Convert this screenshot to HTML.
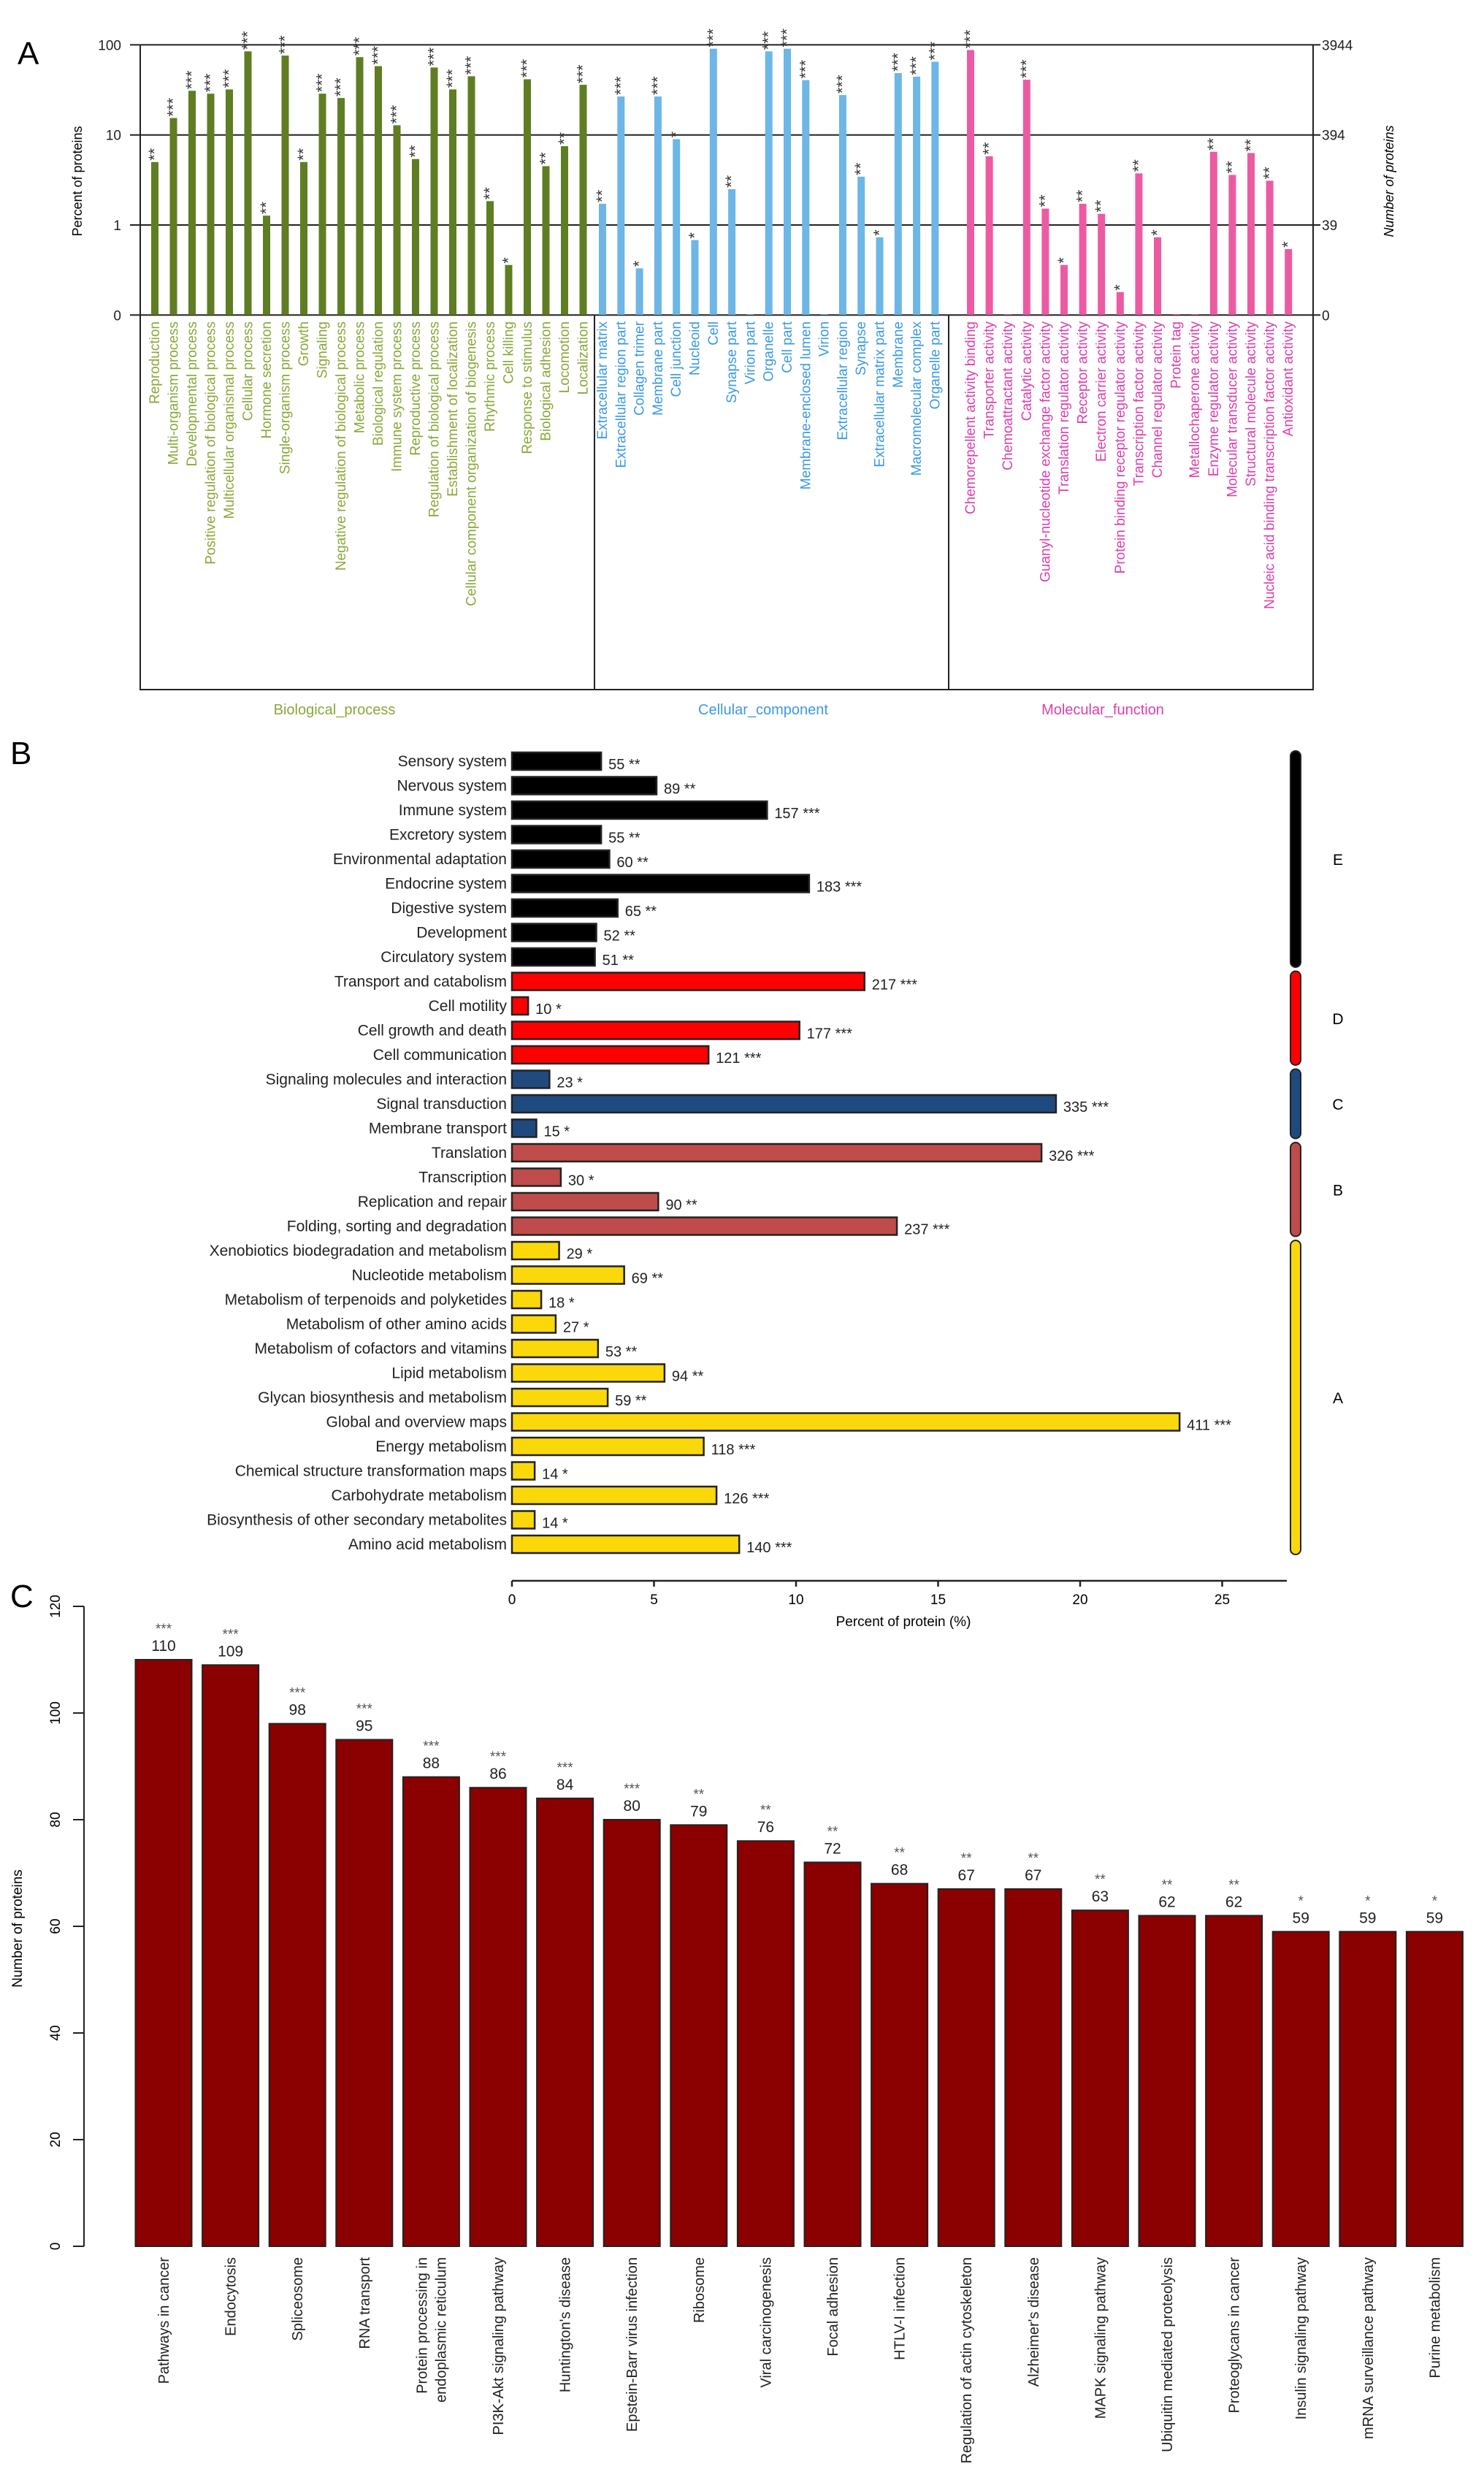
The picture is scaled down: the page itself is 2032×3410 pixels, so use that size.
<!DOCTYPE html>
<html><head><meta charset="utf-8"><style>
html,body{margin:0;padding:0;background:#fff;}
svg{display:block;font-family:"Liberation Sans",sans-serif;}
.nar{font-family:"Liberation Sans Narrow","Liberation Sans",sans-serif;}
</style></head><body>
<svg id="fig" width="2032" height="3410" viewBox="0 0 2032 3410" xmlns="http://www.w3.org/2000/svg">
<g id="pa"></g>
<g id="pb"></g>
<g id="pc"></g>
</svg>
<script>
// ---------- Panel A data ----------
const bpCats=["Reproduction","Multi-organism process","Developmental process","Positive regulation of biological process","Multicellular organismal process","Cellular process","Hormone secretion","Single-organism process","Growth","Signaling","Negative regulation of biological process","Metabolic process","Biological regulation","Immune system process","Reproductive process","Regulation of biological process","Establishment of localization","Cellular component organization of biogenesis","Rhythmic process","Cell killing","Response to stimulus","Biological adhesion","Locomotion","Localization"];
const bpVals=[5.0,15.4,30.9,28.7,32,84.7,1.27,76,5.0,28.7,25.7,73,58,12.8,5.4,56,32,44.8,1.84,0.36,41.5,4.5,7.5,36];
const bpStars=["**","***","***","***","***","***","**","***","**","***","***","***","***","***","**","***","***","***","**","*","***","**","**","***"];
const ccCats=["Extracellular matrix","Extracellular region part","Collagen trimer","Membrane part","Cell junction","Nucleoid","Cell","Synapse part","Virion part","Organelle","Cell part","Membrane-enclosed lumen","Virion","Extracellular region","Synapse","Extracellular matrix part","Membrane","Macromolecular complex","Organelle part"];
const ccVals=[1.72,26.7,0.33,26.7,8.97,0.68,90.6,2.5,0,84.6,90.6,40.6,0,27.7,3.44,0.73,48.6,44.4,65];
const ccStars=["**","***","*","***","*","*","***","**","","***","***","***","","***","**","*","***","***","***"];
const mfCats=["Chemorepellent activity binding","Transporter activity","Chemoattractant activity","Catalytic activity","Guanyl-nucleotide exchange factor activity","Translation regulator activity","Receptor activity","Electron carrier activity","Protein binding receptor regulator activity","Transcription factor activity","Channel regulator activity","Protein tag","Metallochaperone activity","Enzyme regulator activity","Molecular transducer activity","Structural molecule activity","Nucleic acid binding transcription factor activity","Antioxidant activity"];
const mfVals=[87.7,5.8,0,41,1.52,0.36,1.72,1.33,0.18,3.74,0.73,0,0,6.5,3.6,6.3,3.1,0.54];
const mfStars=["***","**","","***","**","*","**","**","*","**","*","","","**","**","**","**","*"];
const aLeftTicks=["100","10","1","0"];
const aLeftTickVals=[100,10,1,0.1];
const aRightTicks=["3944","394","39","0"];

// ---------- Panel B data ----------
const bCats=["Sensory system","Nervous system","Immune system","Excretory system","Environmental adaptation","Endocrine system","Digestive system","Development","Circulatory system","Transport and catabolism","Cell motility","Cell growth and death","Cell communication","Signaling molecules and interaction","Signal transduction","Membrane transport","Translation","Transcription","Replication and repair","Folding, sorting and degradation","Xenobiotics biodegradation and metabolism","Nucleotide metabolism","Metabolism of terpenoids and polyketides","Metabolism of other amino acids","Metabolism of cofactors and vitamins","Lipid metabolism","Glycan biosynthesis and metabolism","Global and overview maps","Energy metabolism","Chemical structure transformation maps","Carbohydrate metabolism","Biosynthesis of other secondary metabolites","Amino acid metabolism"];
const bCounts=[55,89,157,55,60,183,65,52,51,217,10,177,121,23,335,15,326,30,90,237,29,69,18,27,53,94,59,411,118,14,126,14,140];
const bPercents=[3.14,5.09,8.98,3.14,3.43,10.46,3.72,2.97,2.92,12.41,0.57,10.12,6.92,1.32,19.15,0.86,18.64,1.72,5.15,13.55,1.66,3.95,1.03,1.54,3.03,5.37,3.37,23.5,6.75,0.80,7.2,0.80,8.0];
const bStars=["**","**","***","**","**","***","**","**","**","***","*","***","***","*","***","*","***","*","**","***","*","**","*","*","**","**","**","***","***","*","***","*","***"];
const bGroups=["E","E","E","E","E","E","E","E","E","D","D","D","D","C","C","C","B","B","B","B","A","A","A","A","A","A","A","A","A","A","A","A","A"];
const bTicks=[0,5,10,15,20,25];

// ---------- Panel C data ----------
const cCats=[["Pathways in cancer"],["Endocytosis"],["Spliceosome"],["RNA transport"],["Protein processing in","endoplasmic reticulum"],["PI3K-Akt signaling pathway"],["Huntington's disease"],["Epstein-Barr virus infection"],["Ribosome"],["Viral carcinogenesis"],["Focal adhesion"],["HTLV-I infection"],["Regulation of actin cytoskeleton"],["Alzheimer's disease"],["MAPK signaling pathway"],["Ubiquitin mediated proteolysis"],["Proteoglycans in cancer"],["Insulin signaling pathway"],["mRNA surveillance pathway"],["Purine metabolism"]];
const cVals=[110,109,98,95,88,86,84,80,79,76,72,68,67,67,63,62,62,59,59,59];
const cStars=["***","***","***","***","***","***","***","***","**","**","**","**","**","**","**","**","**","*","*","*"];
const cTicks=[0,20,40,60,80,100,120];

const NS="http://www.w3.org/2000/svg";
function mk(parent,tag,attrs,text){const e=document.createElementNS(NS,tag);for(const k in attrs)e.setAttribute(k,attrs[k]);if(text!==undefined)e.textContent=text;parent.appendChild(e);return e;}

// ================= PANEL A =================
(function(){
const g=document.getElementById('pa');
const yA=v=>308-123.3*Math.log10(Math.max(v,0.1));
const L=192,R=1798,T=62,B0=431,BB=944;
let t=mk(g,'text',{x:24,y:88,'font-size':44},'A');


aLeftTickVals.forEach((v,i)=>{
 const y=yA(v);
 let l=mk(g,'line',{x1:178,x2:R+10,y1:y,y2:y,stroke:'#222','stroke-width':2});
 
 
 let tl=mk(g,'text',{x:166,y:y+7,'font-size':19,'text-anchor':'end',fill:'#222'},aLeftTicks[i]);
 
 
 let tr=mk(g,'text',{x:R+12,y:y+7,'font-size':19,fill:'#222'},aRightTicks[i]);
 
 
});
let fr=mk(g,'path',{d:`M${L},${T} V${BB} H${R} V${T}`,fill:'none',stroke:'#222','stroke-width':2});


[814,1299].forEach(x=>{
 let d=mk(g,'line',{x1:x,x2:x,y1:B0,y2:BB,stroke:'#222','stroke-width':2});
 
 
});
let yt=mk(g,'text',{transform:'translate(112,248) rotate(-90)','font-size':18,'text-anchor':'middle'},'Percent of proteins');


let yt2=mk(g,'text',{transform:'translate(1908,248) rotate(-90)','font-size':18,'text-anchor':'middle','font-style':'italic'},'Number of proteins');


const groups=[
 {cats:bpCats,vals:bpVals,stars:bpStars,x0:212,dx:25.5,bar:'#5f7d22',lab:'#8aa83a',name:'Biological_process',gx:458},
 {cats:ccCats,vals:ccVals,stars:ccStars,x0:825,dx:25.3,bar:'#6db6e6',lab:'#3b9ae2',name:'Cellular_component',gx:1045},
 {cats:mfCats,vals:mfVals,stars:mfStars,x0:1329,dx:25.6,bar:'#ec5ba2',lab:'#dc3fae',name:'Molecular_function',gx:1510}];
groups.forEach(gr=>{
 gr.cats.forEach((c,i)=>{
  const x=gr.x0+i*gr.dx, v=gr.vals[i];
  if(v>0){
   const y=yA(v);
   let b=mk(g,'rect',{x:x-5,y:y,width:10,height:B0-y,fill:gr.bar});
   
   
   if(gr.stars[i]){
    let s=mk(g,'text',{transform:`translate(${x+7},${y-2}) rotate(-90)`,'font-size':22,fill:'#333'},gr.stars[i]);
    
    
   }
  } else {
   let b=mk(g,'rect',{x:x-5,y:B0-1,width:10,height:1,fill:gr.bar});
   
   
  }
  let lt=mk(g,'text',{transform:`translate(${x+6},440) rotate(-90)`,'font-size':19,'text-anchor':'end',fill:gr.lab},c);
  
  
 });
 let gl=mk(g,'text',{x:gr.gx,y:978,'font-size':20,'text-anchor':'middle',fill:gr.lab},gr.name);
 
 
});
})();

// ================= PANEL B =================
(function(){
const g=document.getElementById('pb');
const x0=701,ux=38.9,y0=1042,dy=33.5,bh=24;
const xB=v=>x0+v*ux, yB=i=>y0+i*dy;
const fills={E:'#000000',D:'#ff0000',C:'#1f4a7e',B:'#bf4c4a',A:'#fbd80a'};
let t=mk(g,'text',{x:14,y:1046,'font-size':44},'B');


bCats.forEach((c,i)=>{
 const y=yB(i);
 let lt=mk(g,'text',{x:694,y:y+7,'font-size':21,'text-anchor':'end',class:'nar',fill:'#222'},c);
 
 
 const f=fills[bGroups[i]];
 let b=mk(g,'rect',{x:x0,y:y-bh/2,width:xB(bPercents[i])-x0,height:bh,fill:f,stroke:'#222','stroke-width':2.5});
 
 
 let vl=mk(g,'text',{x:xB(bPercents[i])+10,y:y+11,'font-size':20,class:'nar',fill:'#222'},bCounts[i]+' '+bStars[i]);
 
 
});
const gnames=["E","D","C","B","A"];
gnames.forEach(gn=>{
 const idx=bGroups.map((v,i)=>v===gn?i:-1).filter(i=>i>=0);
 const ya=yB(idx[0])-14, yb=yB(idx[idx.length-1])+14;
 let r=mk(g,'rect',{x:1767,y:ya,width:14,height:yb-ya,rx:7,fill:fills[gn],stroke:'#222','stroke-width':2});
 
 
 let l=mk(g,'text',{x:1832,y:(ya+yb)/2+8,'font-size':21,'text-anchor':'middle'},gn);
 
 
});
let ax=mk(g,'line',{x1:x0,x2:1762,y1:2164,y2:2164,stroke:'#222','stroke-width':2.5});


bTicks.forEach(v=>{
 let tk=mk(g,'line',{x1:xB(v),x2:xB(v),y1:2164,y2:2172,stroke:'#222','stroke-width':2.5});
 
 
 let tl=mk(g,'text',{x:xB(v),y:2196,'font-size':19,'text-anchor':'middle'},String(v));
 
 
});
let xt=mk(g,'text',{x:1237,y:2226,'font-size':19,'text-anchor':'middle'},'Percent of protein (%)');


})();

// ================= PANEL C =================
(function(){
const g=document.getElementById('pc');
const yZero=3075,uy=7.3,cx0=224,dx=91.6,bw=77;
const yC=v=>yZero-v*uy, xC=i=>cx0+i*dx;
let t=mk(g,'text',{x:14,y:2200,'font-size':44},'C');


let ax=mk(g,'line',{x1:115,x2:115,y1:yC(120),y2:yC(0),stroke:'#222','stroke-width':2});


cTicks.forEach(v=>{
 let tk=mk(g,'line',{x1:100,x2:115,y1:yC(v),y2:yC(v),stroke:'#222','stroke-width':2});
 
 
 let tl=mk(g,'text',{transform:`translate(82,${yC(v)}) rotate(-90)`,'font-size':19,'text-anchor':'middle'},String(v));
 
 
});
let yt=mk(g,'text',{transform:'translate(30,2640) rotate(-90)','font-size':19,'text-anchor':'middle'},'Number of proteins');


cCats.forEach((c,i)=>{
 const x=xC(i),v=cVals[i],y=yC(v);
 let b=mk(g,'rect',{x:x-bw/2,y:y,width:bw,height:yZero-y,fill:'#8b0000',stroke:'#222','stroke-width':2});
 
 
 let vl=mk(g,'text',{x:x,y:y-12,'font-size':21,'text-anchor':'middle',fill:'#222'},String(v));
 
 
 let sl=mk(g,'text',{x:x,y:y-36,'font-size':19,'text-anchor':'middle',fill:'#555'},cStars[i]);
 
 
 c.forEach((line,j)=>{
  const off=(j-(c.length-1)/2)*26;
  let lt=mk(g,'text',{transform:`translate(${x+7+off},3090) rotate(-90)`,'font-size':20,'text-anchor':'end',fill:'#222'},line);
  
  
 });
});
})();
</script>
</body></html>
